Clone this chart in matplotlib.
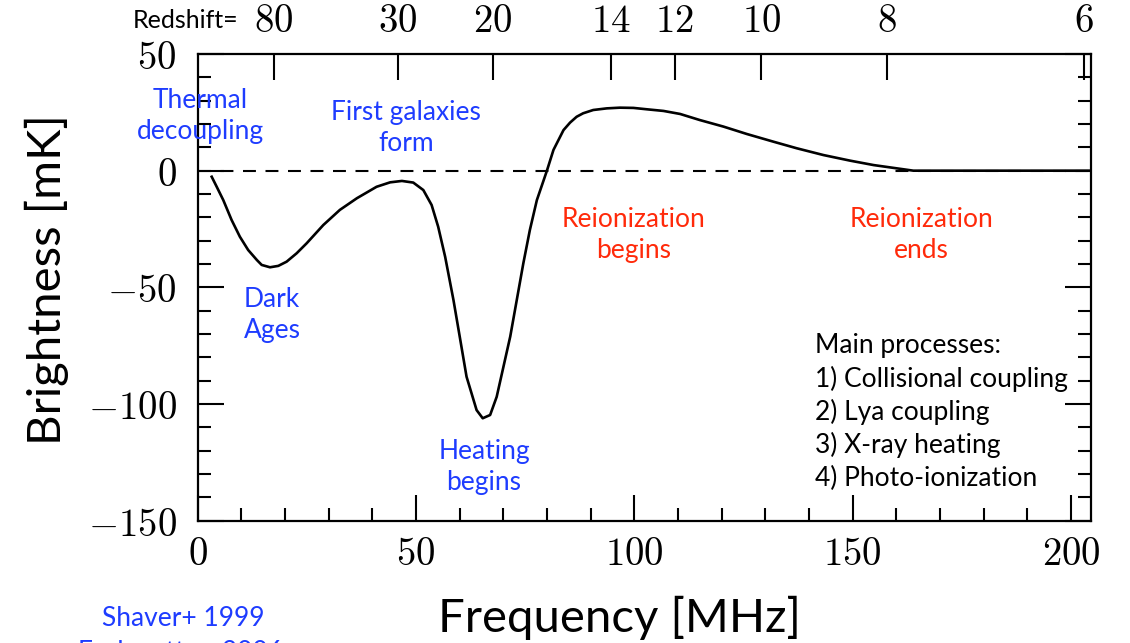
import numpy as np
import matplotlib
matplotlib.use("Agg")
import matplotlib.pyplot as plt
from matplotlib.ticker import MultipleLocator, FuncFormatter, FixedLocator

plt.rcParams['mathtext.fontset'] = 'cm'

# ---- data ----
freq_mhz = [3.25, 4.4, 5.9, 7.8, 9.7, 11.6, 13.6, 14.7, 16.6, 18.5, 20.4, 22.7,
            25.0, 28.8, 32.6, 36.5, 41.0, 44.1, 46.8, 49.4, 51.7, 53.6, 55.1,
            56.7, 58.6, 60.1, 61.6, 63.9, 65.3, 67.0, 68.5, 71.6, 73.1, 74.6,
            76.1, 77.7, 80.0, 81.5, 83.8, 85.3, 86.8, 88.3, 90.6, 93.7, 96.7,
            99.8, 102.9, 106.7, 110.5, 115.0, 120.4, 125.8, 131.9, 137.2, 143.3,
            149.4, 154.8, 163.9, 204.5]
brightness_mk = [-2.6, -6.9, -12.6, -21.1, -28.3, -34.0, -38.3, -40.4, -41.4,
                 -40.8, -39.0, -35.4, -31.1, -23.3, -16.8, -11.8, -6.9, -5.0,
                 -4.4, -5.1, -8.3, -14.7, -24.0, -36.9, -55.4, -71.8, -88.3,
                 -102.6, -106.1, -104.7, -96.9, -71.1, -55.4, -39.7, -25.4, -12.6,
                 0.0, 8.9, 17.4, 20.6, 23.1, 24.6, 26.0, 26.7, 27.0, 26.9, 26.3,
                 25.6, 24.3, 21.7, 18.9, 15.7, 12.4, 9.6, 6.7, 4.3, 2.4, 0.0, 0.0]
redshift_ticks = [80, 30, 20, 14, 12, 10, 8, 6]
nu_21cm = 1420.4  # MHz

blue_notes = [("Thermal\ndecoupling", 200, 116), ("First galaxies\nform", 406, 128),
              ("Dark\nAges", 272, 315), ("Heating\nbegins", 484, 467)]
red_notes = [("Reionization\nbegins", 634, 235), ("Reionization\nends", 921, 235)]
process_lines = ["Main processes:", "1) Collisional coupling", "2) Lya coupling",
                 "3) X-ray heating", "4) Photo-ionization"]

W, H = 1130, 643
fig = plt.figure(figsize=(W / 100, H / 100), dpi=100)

def fx(px):
    return px / W

def fy(py):
    return 1 - py / H

left, right, top, bottom = 197.5, 1090.7, 54.0, 520.7
ax = fig.add_axes([fx(left), fy(bottom), fx(right - left), (bottom - top) / H])

BLUE = "#1e3cff"
RED = "#ff2a0a"
SANS = ["Lato", "DejaVu Sans"]

ax.axhline(0, color="black", lw=1.5, dashes=(6.2, 4.6), zorder=1)
ax.plot(freq_mhz, brightness_mk, color="black", lw=1.9, zorder=2,
        solid_joinstyle="round")

ax.set_xlim(0, 204.5)
ax.set_ylim(-150, 50)

for s in ax.spines.values():
    s.set_linewidth(1.6)

ax.xaxis.set_major_locator(MultipleLocator(50))
ax.xaxis.set_minor_locator(MultipleLocator(10))
ax.yaxis.set_major_locator(MultipleLocator(50))
ax.yaxis.set_minor_locator(MultipleLocator(10))
fmt = FuncFormatter(lambda v, p: r"$%g$" % v)
ax.xaxis.set_major_formatter(fmt)
ax.yaxis.set_major_formatter(fmt)
ax.tick_params(which="both", direction="in", top=False, right=True, width=1.5,
               labelsize=28, color="black")
ax.tick_params(which="major", length=19)
ax.tick_params(which="minor", length=9.5)
ax.tick_params(axis="y", which="major", pad=15)
ax.tick_params(axis="x", which="major", pad=10)

# top redshift axis
ax2 = ax.twiny()
ax2.set_xlim(ax.get_xlim())
ax2.xaxis.set_major_locator(FixedLocator([nu_21cm / (1 + z) for z in redshift_ticks]))
ax2.set_xticklabels([r"$%d$" % z for z in redshift_ticks])
ax2.xaxis.set_minor_locator(FixedLocator([]))
ax2.tick_params(axis="x", which="major", direction="in", length=19, width=1.5,
                labelsize=28, pad=10)
for s in ax2.spines.values():
    s.set_visible(False)

fig.text(fx(186), fy(20), "Redshift=", fontsize=18, family=SANS,
         ha="center", va="center")

# axis titles
fig.text(fx(619), fy(618), "Frequency [MHz]", fontsize=34, family=SANS,
         ha="center", va="center")
fig.text(fx(47), fy(280), "Brightness [mK]", fontsize=34, family=SANS,
         ha="center", va="center", rotation=90)

for txt, x, y in blue_notes:
    fig.text(fx(x), fy(y), txt, fontsize=19, family=SANS, color=BLUE,
             ha="center", va="center", linespacing=1.28)
for txt, x, y in red_notes:
    fig.text(fx(x), fy(y), txt, fontsize=19, family=SANS, color=RED,
             ha="center", va="center", linespacing=1.28)

for i, line in enumerate(process_lines):
    fig.text(fx(815), fy(346 + 33 * i), line, fontsize=19, family=SANS,
             ha="left", va="center")

fig.text(fx(183), fy(618), "Shaver+ 1999", fontsize=19, family=SANS, color=BLUE,
         ha="center", va="center")
fig.text(fx(180), fy(652), "Furlanetto+ 2006", fontsize=19, family=SANS, color=BLUE,
         ha="center", va="center")

fig.savefig("out.png", dpi=100)
